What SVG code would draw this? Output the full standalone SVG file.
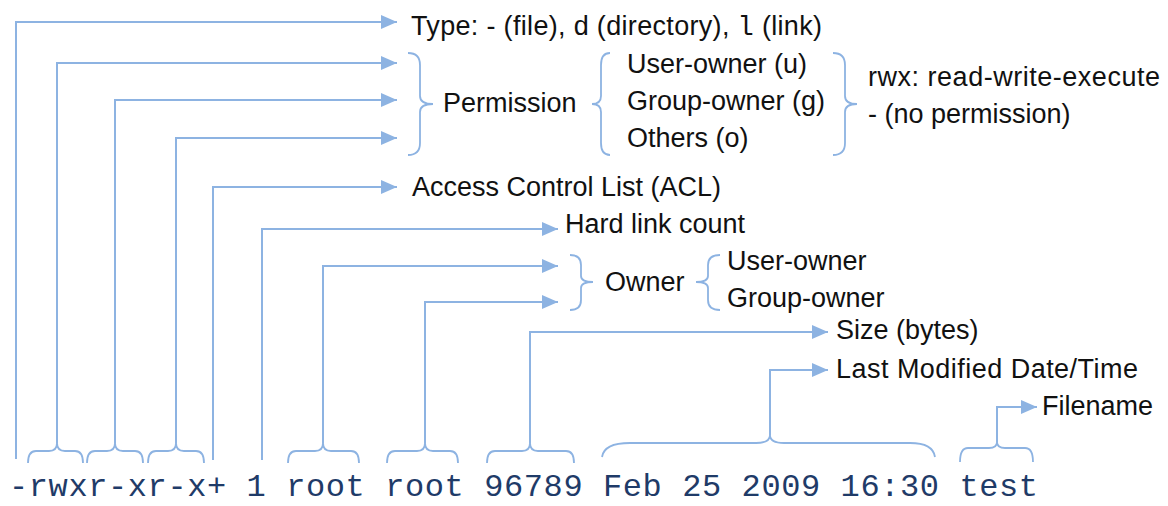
<svg xmlns="http://www.w3.org/2000/svg" width="1168" height="506" viewBox="0 0 1168 506">
  <style>
    .wire { fill: none; stroke: #8db3e2; stroke-width: 2; }
    .brace { fill: none; stroke: #8db3e2; stroke-width: 1.8; }
    .label { font-family: "Liberation Sans", Arial, sans-serif; font-size: 27px; fill: #111; }
    .mono { font-family: "Liberation Mono", "DejaVu Sans Mono", monospace; }
    .listing { font-family: "Liberation Mono", "DejaVu Sans Mono", monospace; font-size: 32px; fill: #1f3b68; }
  </style>
  <defs>
    <marker id="arrow" viewBox="0 0 16 14" refX="16" refY="7" markerWidth="16" markerHeight="14" markerUnits="userSpaceOnUse" orient="auto">
      <path d="M0,0 L16,7 L0,14 Z" fill="#8db3e2"/>
    </marker>
  </defs>

  <!-- the ls -l line being annotated -->
  <g id="listing">
    <text class="listing" x="9" y="496" textLength="1029" lengthAdjust="spacing" xml:space="preserve">-rwxr-xr-x+ 1 root root 96789 Feb 25 2009 16:30 test</text>
  </g>

  <!-- braces grouping the characters of each field -->
  <g id="field-braces" class="brace">
    <path d="M28,463 Q28,451 36,451 L49,451 Q57,451 57,443 Q57,451 65,451 L75,451 Q83,451 83,463"/>
    <path d="M87,463 Q87,451 95,451 L107,451 Q115,451 115,443 Q115,451 123,451 L135,451 Q143,451 143,463"/>
    <path d="M148,463 Q148,451 156,451 L168,451 Q176,451 176,443 Q176,451 184,451 L196,451 Q204,451 204,463"/>
    <path d="M288,463 Q288,451 296,451 L315,451 Q323,451 323,443 Q323,451 331,451 L351,451 Q359,451 359,463"/>
    <path d="M387,463 Q387,451 395,451 L417,451 Q425,451 425,443 Q425,451 433,451 L450,451 Q458,451 458,463"/>
    <path d="M487,463 Q487,451 495,451 L522,451 Q530,451 530,443 Q530,451 538,451 L566,451 Q574,451 574,463"/>
    <path d="M602,457 Q604,443 630,443 L756,443 Q770,443 770,435 Q770,443 784,443 L910,443 Q933,443 935,457"/>
    <path d="M960,462 Q960,448 968,448 L989,448 Q997,448 997,442 Q997,448 1005,448 L1025,448 Q1033,448 1033,462"/>
  </g>

  <!-- connectors from each field up to its label -->
  <g id="connectors" class="wire">
    <path d="M16,459 V22 H397" marker-end="url(#arrow)"/>
    <path d="M57,443 V63 H397" marker-end="url(#arrow)"/>
    <path d="M115,443 V100 H397" marker-end="url(#arrow)"/>
    <path d="M176,443 V138 H397" marker-end="url(#arrow)"/>
    <path d="M213,460 V187 H397" marker-end="url(#arrow)"/>
    <path d="M262,460 V229 H558" marker-end="url(#arrow)"/>
    <path d="M323,443 V266 H558" marker-end="url(#arrow)"/>
    <path d="M425,443 V302 H558" marker-end="url(#arrow)"/>
    <path d="M530,443 V332 H828" marker-end="url(#arrow)"/>
    <path d="M770,435 V370 H828" marker-end="url(#arrow)"/>
    <path d="M997,442 V407 H1037" marker-end="url(#arrow)"/>
  </g>

  <g id="type">
    <text class="label" x="411" y="35" textLength="411" lengthAdjust="spacing" xml:space="preserve">Type: - (file), d (directory), <tspan class="mono">l</tspan> (link)</text>
  </g>

  <g id="permission">
    <path class="brace" d="M408,53 Q420,53 420,65 L420,96 Q420,104 433,104 Q420,104 420,112 L420,143 Q420,155 408,155"/>
    <text class="label" x="443" y="112">Permission</text>
    <path class="brace" d="M610,53 Q601,53 601,65 L601,96 Q601,104 592,104 Q601,104 601,112 L601,143 Q601,155 610,155"/>
  </g>

  <g id="permission-classes">
    <text class="label" x="627" y="73">User-owner (u)</text>
    <text class="label" x="627" y="110">Group-owner (g)</text>
    <text class="label" x="627" y="147">Others (o)</text>
    <path class="brace" d="M833,53 Q845,53 845,65 L845,96 Q845,104 857,104 Q845,104 845,112 L845,143 Q845,155 833,155"/>
  </g>

  <g id="permission-values">
    <text class="label" x="868" y="86" textLength="292" lengthAdjust="spacing">rwx: read-write-execute</text>
    <text class="label" x="868" y="123">- (no permission)</text>
  </g>

  <g id="acl">
    <text class="label" x="412" y="196">Access Control List (ACL)</text>
  </g>

  <g id="hard-links">
    <text class="label" x="565" y="233">Hard link count</text>
  </g>

  <g id="owner">
    <path class="brace" d="M570,255 Q581,255 581,265 L581,276 Q581,282 593,282 Q581,282 581,288 L581,300 Q581,310 570,310"/>
    <text class="label" x="605" y="291">Owner</text>
    <path class="brace" d="M720,255 Q708,255 708,265 L708,276 Q708,282 696,282 Q708,282 708,288 L708,300 Q708,310 720,310"/>
    <text class="label" x="727" y="270">User-owner</text>
    <text class="label" x="727" y="307">Group-owner</text>
  </g>

  <g id="size">
    <text class="label" x="836" y="339">Size (bytes)</text>
  </g>

  <g id="modified">
    <text class="label" x="836" y="378" textLength="302" lengthAdjust="spacing">Last Modified Date/Time</text>
  </g>

  <g id="filename">
    <text class="label" x="1042" y="415">Filename</text>
  </g>
</svg>
